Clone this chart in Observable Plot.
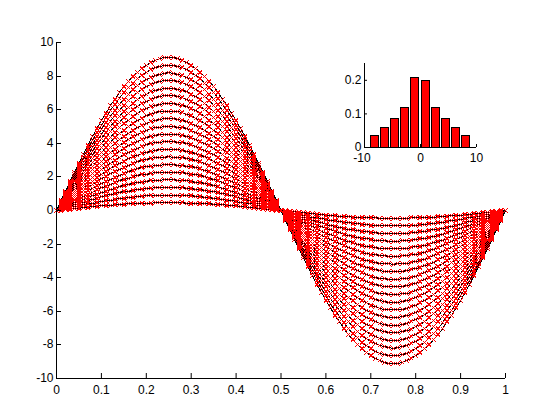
<!DOCTYPE html>
<html>
<head>
<meta charset="utf-8">
<script src="https://cdn.jsdelivr.net/npm/d3@7"></script>
<script src="https://cdn.jsdelivr.net/npm/@observablehq/plot@0.6"></script>
<style>
html,body{margin:0;padding:0;background:#fff;}
#wrap{position:relative;width:560px;height:420px;overflow:hidden;}
#wrap svg{display:block;background:transparent;}
#inset{position:absolute;left:330px;top:50px;}
</style>
</head>
<body>
<div id="wrap"><div id="main"></div><div id="inset"></div></div>
<script>
const FONT = "'Liberation Sans', Arial, sans-serif";

// x sample positions (one every 0.01)
const xSamples = [0,0.01,0.02,0.03,0.04,0.05,0.06,0.07,0.08,0.09,0.1,0.11,0.12,0.13,0.14,0.15,0.16,0.17,0.18,0.19,0.2,0.21,0.22,0.23,0.24,0.25,0.26,0.27,0.28,0.29,0.3,0.31,0.32,0.33,0.34,0.35,0.36,0.37,0.38,0.39,0.4,0.41,0.42,0.43,0.44,0.45,0.46,0.47,0.48,0.49,0.5,0.51,0.52,0.53,0.54,0.55,0.56,0.57,0.58,0.59,0.6,0.61,0.62,0.63,0.64,0.65,0.66,0.67,0.68,0.69,0.7,0.71,0.72,0.73,0.74,0.75,0.76,0.77,0.78,0.79,0.8,0.81,0.82,0.83,0.84,0.85,0.86,0.87,0.88,0.89,0.9,0.91,0.92,0.93,0.94,0.95,0.96,0.97,0.98,0.99,1];

// normalised curve shape shared by every row
const shape = [0,0.063,0.125,0.187,0.249,0.309,0.368,0.426,0.482,0.536,0.588,0.637,0.685,0.729,0.771,0.809,0.844,0.876,0.905,0.93,0.951,0.969,0.982,0.992,0.998,1,0.998,0.992,0.982,0.969,0.951,0.93,0.905,0.876,0.844,0.809,0.771,0.729,0.685,0.637,0.588,0.536,0.482,0.426,0.368,0.309,0.249,0.187,0.125,0.063,0,-0.063,-0.125,-0.187,-0.249,-0.309,-0.368,-0.426,-0.482,-0.536,-0.588,-0.637,-0.685,-0.729,-0.771,-0.809,-0.844,-0.876,-0.905,-0.93,-0.951,-0.969,-0.982,-0.992,-0.998,-1,-0.998,-0.992,-0.982,-0.969,-0.951,-0.93,-0.905,-0.876,-0.844,-0.809,-0.771,-0.729,-0.685,-0.637,-0.588,-0.536,-0.482,-0.426,-0.368,-0.309,-0.249,-0.187,-0.125,-0.063,0];

// peak height of each of the 20 rows
const peaks = [0.46,0.91,1.37,1.82,2.28,2.73,3.19,3.64,4.1,4.55,5.01,5.46,5.92,6.37,6.83,7.28,7.74,8.19,8.65,9.1];

const xTicks = [0,0.1,0.2,0.3,0.4,0.5,0.6,0.7,0.8,0.9,1];
const yTicks = [-10,-8,-6,-4,-2,0,2,4,6,8,10];

// inset histogram
const binLow  = [-8.92,-7.1,-5.28,-3.46,-1.64,0.18,2,3.82,5.64,7.46];
const binHigh = [-7.46,-5.64,-3.82,-2,-0.18,1.64,3.46,5.28,7.1,8.92];
const binFreq = [0.035,0.059,0.086,0.118,0.208,0.197,0.118,0.086,0.059,0.035];
const insetXTicks = [-10,0,10];
const insetYTicks = [0,0.1,0.2];

const table = peaks.flatMap(p => xSamples.map((x, i) => ({x, y: p * shape[i], p})));
const bins = binFreq.map((f, i) => ({x1: binLow[i], x2: binHigh[i], f}));
const tickFmt = d => String(d);

const main = Plot.plot({
  width: 560, height: 420,
  marginLeft: 56, marginRight: 55, marginTop: 42, marginBottom: 42,
  style: {fontFamily: FONT, fontSize: "12px", background: "transparent", color: "#000", overflow: "visible"},
  x: {domain: [0, 1]},
  y: {domain: [-10, 10], round: true},
  marks: [
    Plot.line(table, {x: "x", y: "y", z: "p", stroke: "#000", strokeWidth: 1, shapeRendering: "crispEdges"}),
    Plot.dot(table, {x: "x", y: "y", symbol: "times", r: 2, stroke: "#f00", strokeWidth: 1, fill: "none", shapeRendering: "crispEdges"}),
    Plot.ruleX([0], {stroke: "#000"}),
    Plot.ruleY([-10], {stroke: "#000"}),
    Plot.axisX({ticks: xTicks, tickSize: -5, text: null, label: null, stroke: "#000"}),
    Plot.axisX({ticks: xTicks, tickSize: 0, tickPadding: 7, tickFormat: tickFmt, label: null, fontSize: 12, fill: "#000"}),
    Plot.axisY({ticks: yTicks, tickSize: -5, text: null, label: null, stroke: "#000"}),
    Plot.axisY({ticks: yTicks, tickSize: 0, tickPadding: 3, tickFormat: tickFmt, label: null, fontSize: 12, fill: "#000"})
  ]
});
document.getElementById("main").append(main);

const inset = Plot.plot({
  width: 170, height: 120,
  marginLeft: 34, marginRight: 24, marginTop: 13, marginBottom: 23,
  style: {fontFamily: FONT, fontSize: "12px", background: "transparent", color: "#000", overflow: "visible"},
  x: {domain: [-10, 10]},
  y: {domain: [0, 0.25]},
  marks: [
    Plot.rectY(bins, {x1: "x1", x2: "x2", y: "f", fill: "#f00", stroke: "#000", strokeWidth: 1, shapeRendering: "crispEdges"}),
    Plot.ruleX([-10], {stroke: "#000"}),
    Plot.ruleY([0], {stroke: "#000"}),
    Plot.axisX({ticks: insetXTicks, tickSize: -3, text: null, label: null, stroke: "#000"}),
    Plot.axisX({ticks: insetXTicks.slice(0, 1), tickSize: 0, tickPadding: 6, dx: -2.5, tickFormat: tickFmt, label: null, fontSize: 12, fill: "#000"}),
    Plot.axisX({ticks: insetXTicks.slice(1), tickSize: 0, tickPadding: 6, tickFormat: tickFmt, label: null, fontSize: 12, fill: "#000"}),
    Plot.axisY({ticks: insetYTicks, tickSize: -3, text: null, label: null, stroke: "#000"}),
    Plot.axisY({ticks: insetYTicks, tickSize: 0, tickPadding: 3, tickFormat: tickFmt, label: null, fontSize: 12, fill: "#000"})
  ]
});
document.getElementById("inset").append(inset);
</script>
</body>
</html>
